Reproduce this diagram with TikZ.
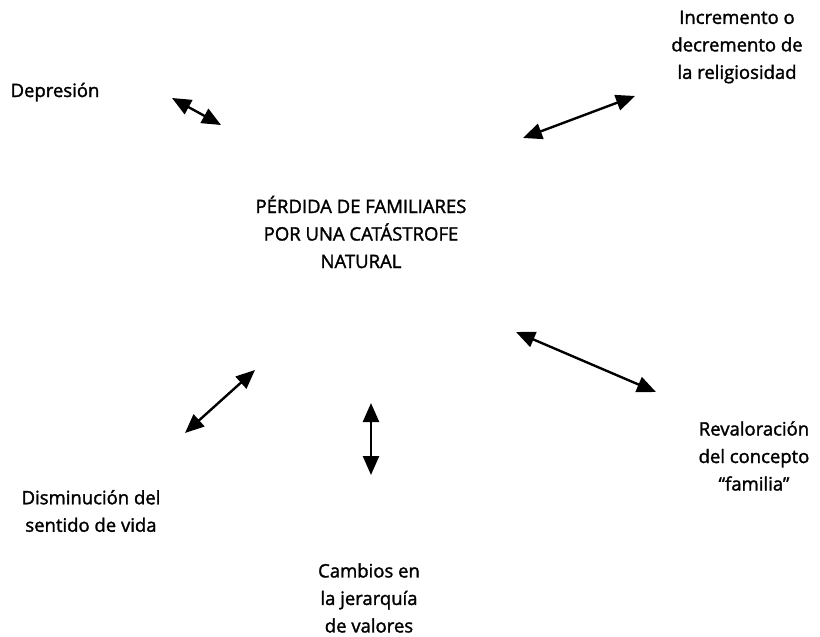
\documentclass[tikz,border=0pt]{standalone}
\usepackage{fontspec}
\setmainfont{Open Sans}[BoldFont={Open Sans}, BoldFeatures={FakeBold=1.6}]
\usetikzlibrary{arrows.meta}
\tikzset{
  lbl/.style={align=center, inner sep=0pt, font=\fontsize{18.5}{27.5}\selectfont\bfseries},
  dblarrow/.style={line width=2.4pt, {Triangle[length=19pt,width=16pt]}-{Triangle[length=19pt,width=16pt]}}
}
\begin{document}
\begin{tikzpicture}[x=1pt,y=-1pt]
\useasboundingbox (0,0) rectangle (820,637);
\node[lbl, anchor=base] (dep) at (55,97) {Depresión};
\node[lbl] (inc) at (737,47) {Incremento o\\decremento de\\la religiosidad};
\node[lbl] (ctr) at (361,232) {PÉRDIDA DE FAMILIARES\\POR UNA CATÁSTROFE\\NATURAL};
\node[lbl] (rev) at (754,456) {Revaloración\\del concepto\\“familia”};
\node[lbl] (dis) at (91,511) {Disminución del\\sentido de vida};
\node[lbl] (cam) at (369,598) {Cambios en\\la jerarquía\\de valores};
\coordinate (a1) at (172,98);  \coordinate (b1) at (221,125);
\coordinate (a2) at (523,138); \coordinate (b2) at (635,96);
\coordinate (a3) at (516,332); \coordinate (b3) at (656,392);
\coordinate (a4) at (185,433); \coordinate (b4) at (255,370);
\coordinate (a5) at (371,403); \coordinate (b5) at (371,475);
\draw[dblarrow] (a1) -- (b1);
\draw[dblarrow] (a2) -- (b2);
\draw[dblarrow] (a3) -- (b3);
\draw[dblarrow] (a4) -- (b4);
\draw[dblarrow] (a5) -- (b5);
\end{tikzpicture}
\end{document}
